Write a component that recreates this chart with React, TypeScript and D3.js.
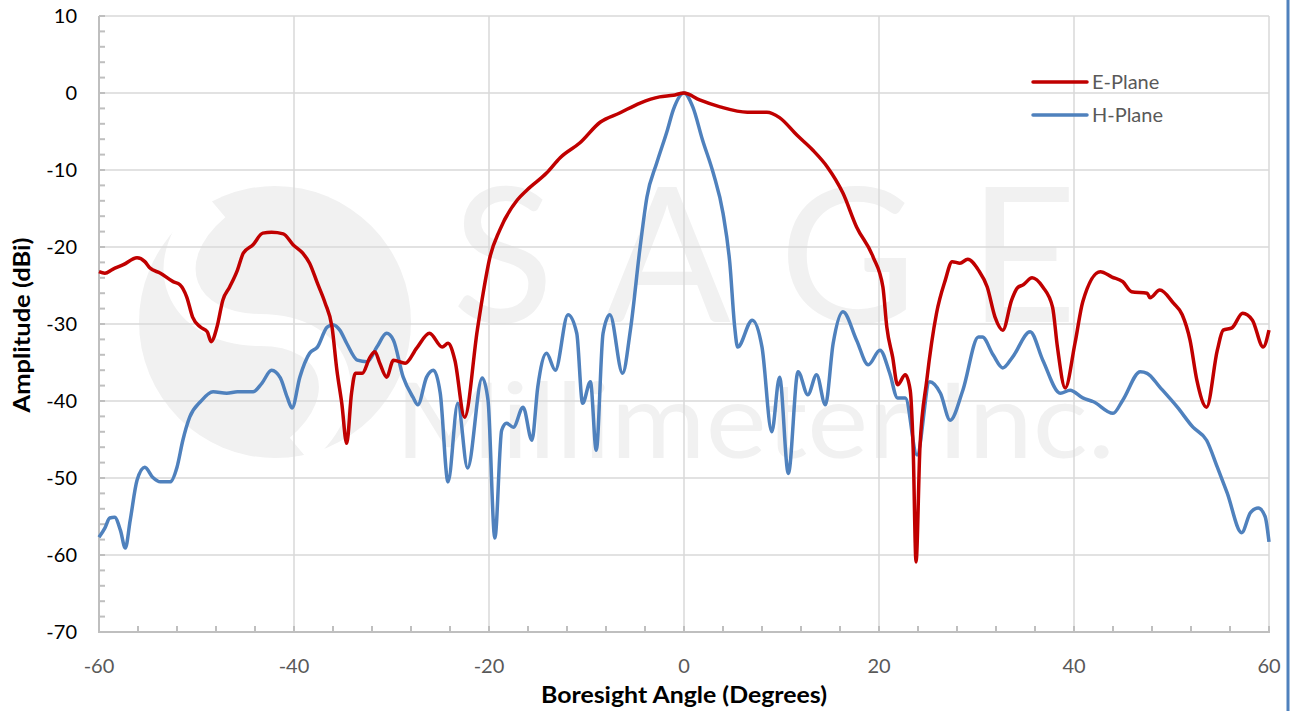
import React from 'react';
import * as d3 from 'd3';

// E-Plane pattern (angle in degrees, amplitude in dBi)
const eAngle = [
  -60, -59.4, -58.6, -57.5, -56.1, -55.3, -54.8, -53.7, -52.4, -51.7, -51.0, -50.4, -49.6, -48.9, -48.5,
  -47.9, -47.3, -46.6, -45.8, -45.2, -44.2, -43.2, -42.3, -41.1, -40.1, -39.1, -38.4, -37.6, -36.8, -36.1,
  -35.6, -35.1, -34.6, -34.1, -33.7, -33.0, -32.2, -31.7, -31.2, -30.5, -29.8, -28.6, -27.4, -26.1, -24.8,
  -24.2, -23.5, -22.5, -21.2, -20.6, -19.9, -18.9, -17.1, -16.1, -14.1, -12.7, -10.7, -8.6, -6.6, -4.5,
  -2.5, -1.1, 0, 1.6, 3.7, 6.5, 8.5, 9.8, 11.6, 13.2, 14.7, 16.3, 17.7, 19.4, 20.4,
  20.8, 21.4, 21.9, 22.7, 23.2, 23.5, 23.8, 24.2, 24.9, 25.9, 26.8, 27.5, 28.3, 29.1, 30.2,
  31.1, 31.9, 32.7, 33.6, 34.2, 34.8, 35.7, 36.8, 37.8, 38.3, 39.1, 40.1, 40.9, 42.7, 43.9,
  45.0, 45.9, 47.5, 47.8, 48.8, 50.2, 51.1, 51.9, 52.6, 53.6, 54.7, 55.3, 56.2, 57.3, 58.3,
  59.4, 60,
];
const eGain = [
  -23.2, -23.4, -22.9, -22.3, -21.4, -21.9, -22.7, -23.4, -24.5, -24.9, -26.5, -29.1, -30.4, -31.0, -32.3,
  -30.4, -26.9, -25.2, -23.0, -20.8, -19.7, -18.2, -18.1, -18.3, -19.7, -20.8, -22.1, -24.7, -27.3, -30.4,
  -36.0, -40.3, -45.5, -39.0, -36.4, -36.4, -34.3, -33.6, -35.1, -36.9, -34.7, -35.1, -33.1, -31.2, -33.0,
  -32.5, -34.7, -42.1, -30.8, -26.0, -21.3, -17.8, -13.9, -12.6, -10.4, -8.4, -6.5, -3.8, -2.6, -1.3,
  -0.5, -0.3, 0, -0.9, -1.8, -2.5, -2.5, -3.2, -5.5, -7.4, -9.6, -13.0, -17.4, -21.3, -25.2,
  -30.4, -34.3, -37.9, -36.6, -38.6, -46.0, -60.9, -46.0, -37.3, -28.6, -24.3, -21.9, -22.1, -21.6, -23.0,
  -25.2, -29.1, -30.8, -26.9, -25.3, -24.9, -24.0, -25.2, -27.8, -33.0, -38.3, -32.5, -27.1, -23.2, -23.9,
  -24.5, -25.8, -26.0, -26.6, -25.6, -27.3, -28.8, -32.1, -37.3, -40.8, -33.4, -30.8, -30.5, -28.6, -29.5,
  -33.0, -30.8,
];

// H-Plane pattern
const hAngle = [
  -60, -59.4, -58.9, -58.4, -57.8, -57.3, -56.8, -56.1, -55.3, -54.5, -53.7, -52.7, -52.0, -51.4, -50.7,
  -49.6, -48.3, -46.9, -45.8, -44.2, -43.3, -42.3, -41.4, -40.7, -40.2, -39.4, -38.4, -37.6, -36.6, -36.0,
  -35.3, -34.6, -33.5, -32.5, -31.5, -30.5, -29.8, -28.8, -27.8, -27.3, -26.4, -25.7, -25.0, -24.2, -23.2,
  -22.2, -20.7, -20.1, -19.4, -18.7, -18.2, -17.5, -16.5, -15.6, -15.0, -14.1, -13.2, -11.9, -11.0, -10.4,
  -9.6, -9.0, -8.3, -7.6, -6.3, -5.5, -4.5, -3.8, -2.8, -1.7, -1.1, 0, 0.9, 1.9, 3.0,
  4.0, 4.7, 5.2, 5.5, 7.0, 8.0, 9.0, 9.8, 10.7, 11.7, 12.7, 13.6, 14.5, 15.3, 16.3,
  17.7, 18.9, 20.1, 21.1, 21.9, 22.7, 23.9, 25.2, 26.3, 27.3, 28.6, 30.2, 30.6, 31.7, 32.7,
  33.7, 35.5, 36.8, 38.6, 39.6, 40.9, 42.0, 44.0, 45.0, 46.8, 47.5, 48.8, 50.6, 52.2, 53.6,
  54.7, 55.7, 57.2, 58.1, 58.9, 59.6, 60,
];
const hGain = [
  -57.7, -56.5, -55.2, -55.1, -56.8, -59.1, -55.5, -50.3, -48.6, -49.9, -50.5, -50.5, -48.6, -45.1, -42.1,
  -40.1, -38.8, -39.0, -38.8, -38.8, -37.7, -36.0, -37.0, -39.5, -40.9, -36.9, -33.8, -33.0, -30.4, -30.1,
  -30.8, -32.5, -34.7, -34.9, -33.0, -31.2, -32.1, -36.9, -39.5, -40.5, -36.9, -36.0, -39.0, -50.5, -40.3,
  -48.7, -37.0, -39.9, -57.8, -43.8, -42.9, -43.4, -40.8, -45.1, -38.2, -33.8, -36.0, -28.8, -31.2, -40.3,
  -37.5, -46.4, -31.2, -28.8, -36.4, -30.8, -20.0, -13.5, -9.1, -4.8, -2.2, 0, -1.8, -6.1, -10.4,
  -15.6, -22.1, -30.4, -33.0, -29.5, -33.0, -44.0, -36.9, -49.4, -36.2, -39.2, -36.6, -40.5, -32.5, -28.4,
  -32.1, -35.3, -33.4, -36.4, -39.6, -39.6, -47.0, -37.5, -39.0, -42.5, -38.6, -31.7, -31.7, -34.0, -35.7,
  -34.3, -31.0, -34.7, -39.0, -38.6, -39.6, -40.1, -41.6, -39.9, -36.2, -36.4, -38.2, -40.8, -43.4, -45.1,
  -48.6, -51.9, -57.1, -54.5, -53.9, -55.0, -58.3,
];

const xTicks = [-60, -40, -20, 0, 20, 40, 60];
const yTicks = [10, 0, -10, -20, -30, -40, -50, -60, -70];
const seriesNames = ['E-Plane', 'H-Plane'];

const W = 1290;
const H = 711;
const margin = { left: 99, right: 21, top: 16, bottom: 79 };
const FONT = 'Lato, "Open Sans", sans-serif';

const App = () => {
  const x = d3.scaleLinear().domain([-60, 60]).range([margin.left, W - margin.right]);
  const y = d3.scaleLinear().domain([-70, 10]).range([H - margin.bottom, margin.top]);

  const line = d3.line<[number, number]>()
    .x(d => x(d[0]))
    .y(d => y(d[1]))
    .curve(d3.curveMonotoneX);

  const ePath = line(eAngle.map((a, i) => [a, eGain[i]]) as [number, number][]);
  const hPath = line(hAngle.map((a, i) => [a, hGain[i]]) as [number, number][]);

  const xMinor = d3.range(-60, 61, 4);
  const yMinor = d3.range(-70, 11, 2);
  const x0 = x(-60);
  const y0 = y(-70);

  return (
    <svg width={W} height={H} style={{ position: 'absolute', left: 0, top: 0, background: '#fff' }}>
      {/* watermark */}
      <g fill="#F1F1F1">
        <circle cx={275} cy={322} r={136} />
        <path d="M 215 205 C 150 260, 180 330, 260 330 C 340 330, 360 400, 300 450"
          fill="none" stroke="#fff" strokeWidth={32} />
        <text x={452} y={322} fontSize={188} fontFamily={FONT}
          textLength={625} lengthAdjust="spacing">SAGE</text>
        <text x={395} y={458} fontSize={104} fontFamily={FONT}
          textLength={720} lengthAdjust="spacingAndGlyphs">Millimeter Inc.</text>
      </g>

      {/* grid */}
      <g stroke="#D9D9D9" strokeWidth={1.5}>
        {yTicks.filter(t => t !== -70).map(t => (
          <line key={'gy' + t} x1={x0} x2={x(60)} y1={y(t)} y2={y(t)} />
        ))}
        {xTicks.filter(t => t !== -60).map(t => (
          <line key={'gx' + t} x1={x(t)} x2={x(t)} y1={y(10)} y2={y0} />
        ))}
      </g>

      {/* axes */}
      <g stroke="#BFBFBF" strokeWidth={2}>
        <line x1={x0} x2={x0} y1={y(10)} y2={y0 + 1} />
        <line x1={x0 - 1} x2={x(60) + 1} y1={y0} y2={y0} />
        {yMinor.map(t => (
          <line key={'my' + t} x1={x0} x2={x0 + 6} y1={y(t)} y2={y(t)} />
        ))}
        {xMinor.map(t => (
          <line key={'mx' + t} x1={x(t)} x2={x(t)} y1={y0} y2={y0 - 6} />
        ))}
      </g>

      {/* tick labels */}
      <g fontFamily={FONT} fontSize={20}>
        {yTicks.map(t => (
          <text key={'ly' + t} x={77} y={y(t)} dy="0.36em" textAnchor="end" fill="#000">{t}</text>
        ))}
        {xTicks.map(t => (
          <text key={'lx' + t} x={x(t)} y={666} dy="0.36em" textAnchor="middle" fill="#595959">{t}</text>
        ))}
      </g>

      {/* axis titles */}
      <text x={684} y={695} dy="0.36em" textAnchor="middle" fontFamily={FONT} fontSize={22}
        fontWeight="bold" fill="#000" textLength={286} lengthAdjust="spacingAndGlyphs">Boresight Angle (Degrees)</text>
      <text transform={`translate(22,${(y(10) + y0) / 2 + 1}) rotate(-90)`} dy="0.36em" textAnchor="middle"
        fontFamily={FONT} fontSize={22} fontWeight="bold" fill="#000"
        textLength={175} lengthAdjust="spacingAndGlyphs">Amplitude (dBi)</text>

      {/* series */}
      <path d={hPath || ''} fill="none" stroke="#4F81BD" strokeWidth={3.5} strokeLinejoin="round" />
      <path d={ePath || ''} fill="none" stroke="#C00000" strokeWidth={3.5} strokeLinejoin="round" />

      {/* legend */}
      <g fontFamily={FONT} fontSize={20} fill="#595959">
        {seriesNames.map((name, i) => (
          <g key={name} transform={`translate(1033,${82 + i * 33})`}>
            <line x1={0} x2={54} y1={0} y2={0} stroke={i === 0 ? '#C00000' : '#4F81BD'}
              strokeWidth={3.5} strokeLinecap="round" />
            <text x={59} y={0} dy="0.36em">{name}</text>
          </g>
        ))}
      </g>

      {/* right border */}
      <line x1={1288} x2={1288} y1={0} y2={H} stroke="#4F81BD" strokeWidth={3} />
    </svg>
  );
};

export default App;
